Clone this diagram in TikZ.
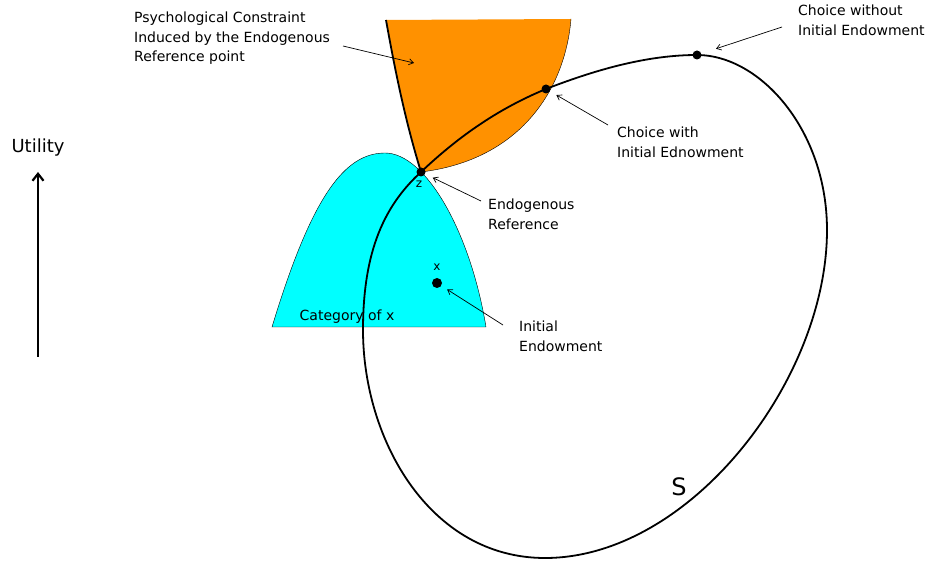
\documentclass[tikz,border=0pt]{standalone}
\usepackage{fontspec}
\setmainfont{DejaVu Sans}
\usetikzlibrary{arrows.meta}
\definecolor{orangefill}{RGB}{255,145,0}
\definecolor{cyanfill}{RGB}{0,255,255}

\begin{document}
\begin{tikzpicture}[x=1pt,y=-1pt,>={Straight Barb[length=4.5pt,width=6pt]},
  every node/.style={font=\fontsize{14}{19.5}\selectfont,inner sep=0pt},
  lbl/.style={align=left,anchor=north west},
  pointer/.style={->,line width=0.7pt},
  dot/.style={circle,fill,inner sep=0pt,minimum size=9pt}]
  \useasboundingbox (0,0) rectangle (930,561);
  % category of x
  \filldraw[fill=cyanfill,draw=black,thin] (272,327) .. controls (312,195) and (345,153) .. (385,153)
    .. controls (425,153) and (470,230) .. (486,327) -- cycle;
  % psychological constraint
  \fill[orangefill] (386,20) .. controls (395,70) and (405,120) .. (421,172)
    .. controls (520,160) and (565,90) .. (571,19) -- cycle;
  \draw[thin] (421,172) .. controls (520,160) and (565,90) .. (571,19);
  \draw[line width=1.8pt] (386,20) .. controls (395,70) and (405,120) .. (421,172);
  % the set S
  \draw[line width=1.8pt] (421,172) .. controls (460,135) and (500,108) .. (546,89)
    .. controls (600,68) and (650,55) .. (697,55)
    .. controls (760,55) and (827,130) .. (827,230)
    .. controls (827,380) and (690,558) .. (545,558)
    .. controls (430,558) and (363,440) .. (363,330)
    .. controls (363,250) and (385,205) .. cycle;

  \node[dot] (z) at (421,172) {};
  \node[dot] (cw) at (546,89) {};
  \node[dot] (cwo) at (697,55) {};
  \node[dot,minimum size=10pt] (x) at (437,283) {};
  \coordinate (psyin) at (414,63);

  \node[font=\fontsize{12}{12}\selectfont] (zl) at (419,184) {z};
  \node[font=\fontsize{12}{12}\selectfont] (xl) at (437,267) {x};
  \node (cat) at (347,317) {Category of x};
  \node[font=\fontsize{24}{24}\selectfont] (sl) at (679,487) {S};
  \node[font=\fontsize{18}{18}\selectfont] (util) at (38,148) {Utility};

  \node[lbl] (psy) at (134,12) {Psychological Constraint\\Induced by the Endogenous\\Reference point};
  \node[lbl] (cwol) at (798,5) {Choice without\\Initial Endowment};
  \node[lbl] (cwl) at (617,127) {Choice with\\Initial Ednowment};
  \node[lbl] (endo) at (488,199) {Endogenous\\Reference};
  \node[lbl] (init) at (519,321) {Initial\\Endowment};

  \coordinate (psytail) at (343,46);
  \coordinate (cwotail) at (782,27);
  \coordinate (cwtail) at (608,125);
  \coordinate (endotail) at (481,201);
  \coordinate (inittail) at (503,325);
  \coordinate (ubase) at (38,357);
  \coordinate (utop) at (38,172);

  \draw[pointer] (psytail) -- (psyin);
  \draw[pointer,shorten >=20pt] (cwotail) -- (cwo.center);
  \draw[pointer,shorten >=12pt] (cwtail) -- (cw.center);
  \draw[pointer,shorten >=13pt] (endotail) -- (z.center);
  \draw[pointer,shorten >=12pt] (inittail) -- (x.center);
  \draw[->,line width=2.2pt,>={Straight Barb[length=7pt,width=11pt]}] (ubase) -- (utop);
\end{tikzpicture}
\end{document}
